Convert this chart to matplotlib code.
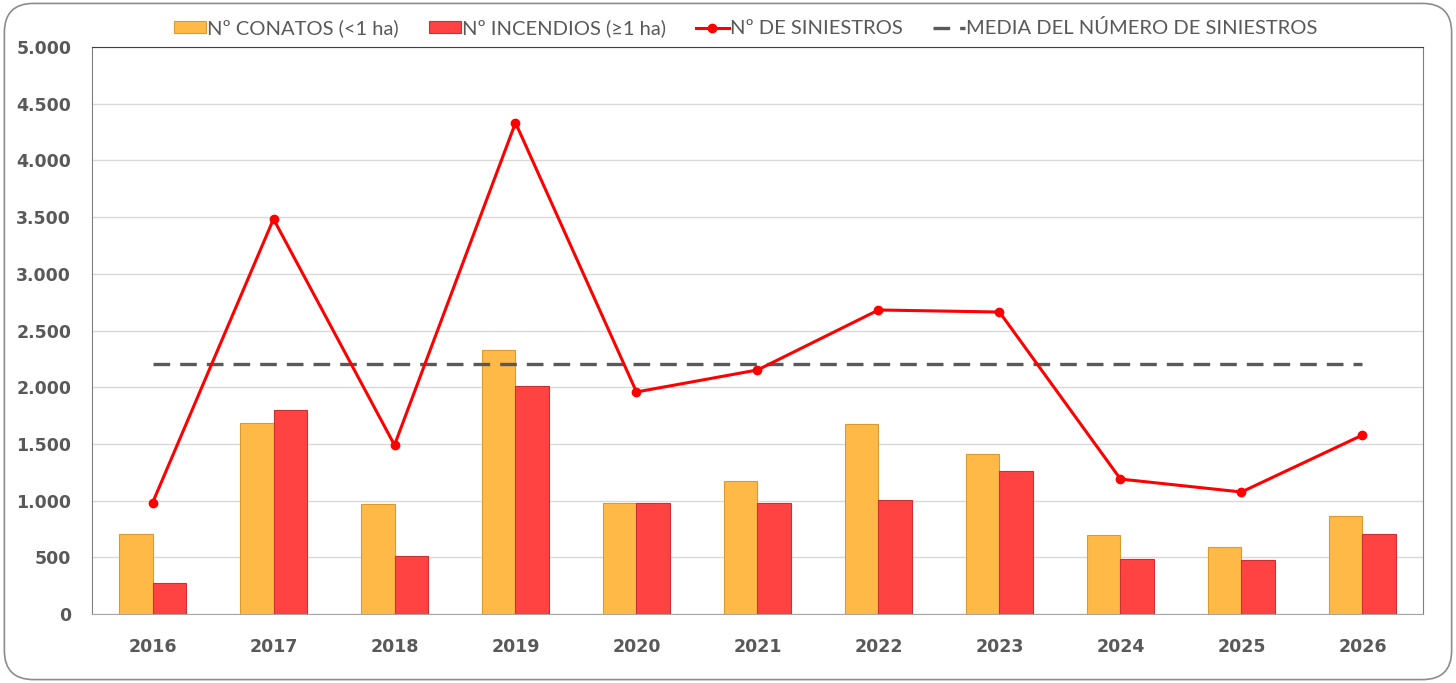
import numpy as np
import matplotlib.pyplot as plt
from matplotlib.patches import FancyBboxPatch
from matplotlib.ticker import FuncFormatter, MultipleLocator

years = ["2016", "2017", "2018", "2019", "2020", "2021",
         "2022", "2023", "2024", "2025", "2026"]

conatos = [708, 1688, 972, 2328, 978, 1175, 1672, 1412, 698, 592, 862]
incendios = [272, 1795, 515, 2010, 975, 978, 1005, 1258, 488, 478, 705]
siniestros = [980, 3483, 1490, 4332, 1958, 2152, 2681, 2663, 1190, 1076, 1578]

# media de los diez primeros años
media = np.mean(siniestros[:10])

txt = "#595959"

fig = plt.figure(figsize=(14.56, 6.83), dpi=100)

# -------------------
# marco exterior
# -------------------

fig.patches.append(
    FancyBboxPatch(
        (0.003, 0.005), 0.994, 0.99,
        boxstyle="round,pad=0,rounding_size=0.02",
        transform=fig.transFigure,
        facecolor="white",
        edgecolor="#8c8c8c",
        linewidth=1.2,
        mutation_aspect=1456 / 683,
        zorder=-10
    )
)

ax = fig.add_axes([0.0632, 0.101, 0.9141, 0.8302])

x = np.arange(len(years))
w = 0.28

b1 = ax.bar(
    x - w / 2, conatos, w,
    color="#FFB947",
    edgecolor="#D99A30",
    linewidth=0.8,
    label="Nº CONATOS (<1 ha)",
    zorder=3
)

b2 = ax.bar(
    x + w / 2, incendios, w,
    color="#FF4242",
    edgecolor="#C83232",
    linewidth=0.8,
    label="Nº INCENDIOS (≥1 ha)",
    zorder=3
)

l1, = ax.plot(
    x, siniestros,
    color="#FF0000",
    linewidth=2.2,
    marker="o",
    markersize=6,
    label="Nº DE SINIESTROS",
    zorder=5
)

l2, = ax.plot(
    x, [media] * len(x),
    color="#595959",
    linewidth=2.4,
    dashes=(5, 3),
    label="MEDIA DEL NÚMERO DE SINIESTROS",
    zorder=4
)

ax.set_xlim(-0.5, len(years) - 0.5)
ax.set_ylim(0, 5000)

ax.yaxis.set_major_locator(MultipleLocator(500))
ax.yaxis.set_major_formatter(
    FuncFormatter(lambda v, p: f"{int(v):,}".replace(",", "."))
)

ax.set_xticks(x)
ax.set_xticklabels(years)

ax.grid(axis="y", color="#D9D9D9", linewidth=1, zorder=0)

ax.tick_params(axis="both", length=0, labelsize=12.5, colors=txt)
ax.tick_params(axis="y", pad=15)
ax.tick_params(axis="x", pad=17)

for lab in ax.get_xticklabels() + ax.get_yticklabels():
    lab.set_fontweight("bold")

for side in ["left", "right"]:
    ax.spines[side].set_color("#7F7F7F")
ax.spines["top"].set_color("#404040")
ax.spines["bottom"].set_color("#A6A6A6")

fig.legend(
    handles=[b1, b2, l1, l2],
    loc="center",
    bbox_to_anchor=(0.512, 0.959),
    ncol=4,
    frameon=False,
    prop={"family": "Lato", "size": 14.5},
    labelcolor=txt,
    handlelength=1.6,
    handleheight=0.5,
    handletextpad=0.05,
    columnspacing=1.5
)

plt.savefig("out.png", dpi=100)
